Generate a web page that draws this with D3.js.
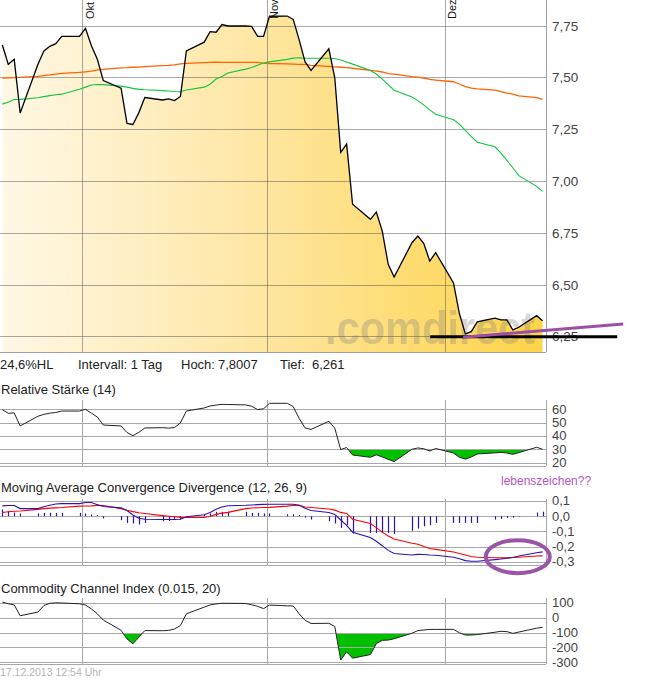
<!DOCTYPE html>
<html><head><meta charset="utf-8">
<script src="https://cdn.jsdelivr.net/npm/d3@7"></script>
<style>
html,body{margin:0;padding:0;background:#fff;}
svg{display:block;font-family:"Liberation Sans",Arial,sans-serif;}
</style></head><body>
<svg id="c" width="645" height="681"></svg>
<script>
// ---------- data ----------
const dates = [
"2013-09-17","2013-09-18","2013-09-19","2013-09-20",
"2013-09-23","2013-09-24","2013-09-25","2013-09-26","2013-09-27",
"2013-09-30","2013-10-01","2013-10-02","2013-10-03","2013-10-04",
"2013-10-07","2013-10-08","2013-10-09","2013-10-10","2013-10-11",
"2013-10-14","2013-10-15","2013-10-16","2013-10-17","2013-10-18",
"2013-10-21","2013-10-22","2013-10-23","2013-10-24","2013-10-25",
"2013-10-28","2013-10-29","2013-10-30","2013-10-31","2013-11-01",
"2013-11-04","2013-11-05","2013-11-06","2013-11-07","2013-11-08",
"2013-11-11","2013-11-12","2013-11-13","2013-11-14","2013-11-15",
"2013-11-18","2013-11-19","2013-11-20","2013-11-21","2013-11-22",
"2013-11-25","2013-11-26","2013-11-27","2013-11-28","2013-11-29",
"2013-12-02","2013-12-03","2013-12-04","2013-12-05","2013-12-06",
"2013-12-09","2013-12-10","2013-12-11","2013-12-12","2013-12-13",
"2013-12-16","2013-12-17"];
const price = [
7.658,7.565,7.589,7.33,
7.565,7.63,7.652,7.665,7.70,
7.70,7.739,7.655,7.59,7.487,
7.45,7.28,7.275,7.332,7.405,
7.393,7.398,7.39,7.41,7.63,
7.672,7.723,7.72,7.757,7.75,
7.75,7.748,7.70,7.70,7.797,
7.798,7.782,7.683,7.577,7.536,
7.64,7.50,7.14,7.18,6.89,
6.817,6.852,6.76,6.60,6.538,
6.704,6.736,6.70,6.615,6.656,
6.51,6.361,6.264,6.275,6.322,
6.34,6.332,6.332,6.283,6.296,
6.352,6.328];
const ma38 = [
7.373,7.383,7.395,7.396,
7.404,7.409,7.414,7.418,7.421,
7.445,7.455,7.465,7.468,7.467,
7.46,7.455,7.449,7.444,7.442,
7.438,7.436,7.434,7.433,7.441,
7.455,7.469,7.494,7.506,7.523,
7.542,7.55,7.561,7.571,7.577,
7.589,7.595,7.597,7.594,7.594,
7.594,7.593,7.586,7.576,7.566,
7.535,7.518,7.494,7.467,7.44,
7.407,7.39,7.368,7.345,7.324,
7.298,7.276,7.246,7.216,7.189,
7.167,7.136,7.101,7.066,7.028,
6.976,6.952];
const ma200 = [
7.498,7.5,7.501,7.502,
7.507,7.511,7.514,7.518,7.521,
7.526,7.529,7.532,7.538,7.541,
7.548,7.549,7.551,7.552,7.554,
7.559,7.56,7.562,7.567,7.57,
7.573,7.574,7.575,7.574,7.574,
7.574,7.574,7.574,7.571,7.569,
7.567,7.566,7.565,7.565,7.56,
7.555,7.553,7.551,7.549,7.546,
7.536,7.532,7.528,7.52,7.518,
7.506,7.503,7.499,7.492,7.489,
7.481,7.47,7.457,7.45,7.447,
7.441,7.433,7.426,7.421,7.413,
7.404,7.396];
const rsi = [
59.7,57,57.3,47.5,
54.8,56.2,57.1,57.6,58.7,
58.7,60,57.1,54.2,48.2,
47.5,42.6,40.2,42.7,46,
46.2,45.9,46.3,49.8,58.7,
61,62.5,63.2,63.7,63.6,
63.3,62.3,59.8,60.4,64.5,
64.5,62,53.2,46,44.9,
51,45.8,29.8,31.3,25.7,
24,25.8,24.3,22.4,20.8,
30,31,30.4,28.7,30.6,
27.2,24,22.6,24.2,26.5,
27.3,27.7,27.2,26.2,27.5,
31.5,30];
const macdLine = [
0.068,0.07,0.07,0.05,
0.05,0.062,0.072,0.08,0.083,
0.083,0.09,0.09,0.076,0.064,
0.055,0.037,0.008,-0.013,-0.02,
-0.022,-0.022,-0.022,-0.02,-0.004,
0.01,0.025,0.045,0.06,0.069,
0.072,0.074,0.076,0.078,0.079,
0.079,0.079,0.072,0.052,0.038,
0.024,0.012,-0.025,-0.06,-0.105,
-0.14,-0.165,-0.194,-0.225,-0.245,
-0.255,-0.251,-0.252,-0.255,-0.257,
-0.27,-0.28,-0.292,-0.296,-0.296,
-0.286,-0.282,-0.277,-0.272,-0.262,
-0.24,-0.235];
const signalLine = [
0.024,0.029,0.033,0.034,
0.045,0.05,0.053,0.055,0.057,
0.066,0.067,0.068,0.07,0.07,
0.05,0.039,0.03,0.023,0.018,
0.004,0.0,-0.004,-0.008,-0.009,
-0.009,0.0,0.012,0.02,0.025,
0.05,0.054,0.056,0.057,0.058,
0.066,0.07,0.072,0.06,0.057,
0.047,0.04,0.025,0.018,-0.02,
-0.048,-0.075,-0.105,-0.13,-0.15,
-0.178,-0.185,-0.2,-0.213,-0.218,
-0.235,-0.245,-0.255,-0.265,-0.27,
-0.273,-0.274,-0.274,-0.272,-0.27,
-0.262,-0.261];
const histogram = [
0.044,0.033,0.024,0.018,
0.018,0.022,0.022,0.022,0.022,
0.022,0.018,0.011,0.007,-0.015,
-0.026,-0.044,-0.048,-0.055,-0.044,
-0.033,-0.031,-0.022,-0.022,0,
0.01,0.018,0.029,0.029,0.029,
0.029,0.022,0.022,0.018,0.018,
0.013,0.013,0.007,-0.009,-0.022,
-0.033,-0.048,-0.077,-0.059,-0.114,
-0.11,-0.11,-0.11,-0.11,-0.118,
-0.096,-0.081,-0.066,-0.059,-0.044,
-0.044,-0.044,-0.044,-0.044,-0.044,
-0.022,-0.018,-0.011,-0.009,-0.004,
0.024,0.029];
const cci = [
106,95,87,14,
39,83,98,101,100,
95,86,60,27,-15,
-84,-142,-175,-130,-86,
-87,-85,-75,-52,27,
72,87,94,98,98,
97,88,78,62,86,
81,80,27,-17,-38,
-37,-58,-285,-229,-272,
-248,-174,-152,-150,-141,
-104,-86,-82,-78,-78,
-78,-101,-116,-116,-113,
-97,-91,-93,-105,-96,
-70,-64];
const months = ["2013-10-01","2013-11-01","2013-12-01"];
const monthLabels = ["Okt","Nov","Dez"];
const priceTicks = [7.75,7.5,7.25,7.0,6.75,6.5,6.25];
const rsiTicks = [60,50,40,30,20];
const macdTicks = [0.1,0,-0.1,-0.2,-0.3];
const cciTicks = [100,0,-100,-200,-300];
const infoLabels = ["24,6%HL","Intervall: 1 Tag","Hoch:","7,8007","Tief:","6,261"];
const panelTitles = ["Relative Stärke (14)","Moving Average Convergence Divergence (12, 26, 9)","Commodity Channel Index (0.015, 20)"];
const stampText = "17.12.2013 12:54 Uhr";
const noteText = "lebenszeichen??";
const supportLine = {from:"2013-11-28T14:00:00Z", to:"2013-12-30T02:00:00Z", value:6.25};
const trendLine = {from:"2013-12-04T03:00:00Z", v0:6.248, to:"2013-12-31T02:00:00Z", v1:6.312};
const noteMark = {date:"2013-12-13T08:00:00Z", value:-0.266};

// ---------- setup ----------
const svg = d3.select("#c");
const PR = 546; // right edge of plot
const parse = d3.utcParse("%Y-%m-%d");
const T = dates.map(d => new Date(parse(d).getTime() + 12*3600e3));
const idx = d3.range(dates.length);
const x = d3.scaleUtc()
  .domain([new Date(Date.UTC(2013,8,17,2,30)), new Date(Date.UTC(2013,11,18,2,0))])
  .range([0, PR]);
const de = d3.formatLocale({decimal:",", thousands:".", grouping:[3], currency:["","€"], minus:"-"});
const GRID = "rgba(80,80,80,0.48)";
const FONT = '"Liberation Sans", Arial, sans-serif';

const defs = svg.append("defs");
const grad = defs.append("linearGradient").attr("id","gold")
  .attr("gradientUnits","userSpaceOnUse").attr("x1",0).attr("x2",PR).attr("y1",0).attr("y2",0);
grad.append("stop").attr("offset","0%").attr("stop-color","#fff8e6");
grad.append("stop").attr("offset","45%").attr("stop-color","#fee7a6");
grad.append("stop").attr("offset","100%").attr("stop-color","#ffd447");

function clip(id, x0, y0, w, h){
  defs.append("clipPath").attr("id",id).append("rect").attr("x",x0).attr("y",y0).attr("width",w).attr("height",h);
  return "url(#"+id+")";
}

// ---------- main price panel ----------
const mainTop = 0, mainBot = 352;
const y = d3.scaleLinear().domain([6.25, 7.75]).range([336.8, 26]);
const gMain = svg.append("g").attr("clip-path", clip("cm", 0, mainTop, PR, mainBot-mainTop));

gMain.append("path")
  .attr("d", d3.area().x(i => x(T[i])).y0(mainBot).y1(i => y(price[i]))(idx))
  .attr("fill","url(#gold)");

gMain.append("text").text(".comdirect")
  .attr("x", 325).attr("y", 344)
  .attr("font-family", FONT).attr("font-weight","bold").attr("font-size", 46)
  .attr("textLength", 210).attr("lengthAdjust","spacingAndGlyphs")
  .attr("fill", "#808080").attr("fill-opacity", 0.32);

gMain.selectAll("line.hg").data(priceTicks).join("line")
  .attr("x1",0).attr("x2",PR).attr("y1",d=>y(d)).attr("y2",d=>y(d))
  .attr("stroke",GRID).attr("stroke-width",1).attr("shape-rendering","crispEdges");
gMain.selectAll("line.vg").data(months).join("line")
  .attr("x1",d=>Math.round(x(parse(d)))+0.5).attr("x2",d=>Math.round(x(parse(d)))+0.5)
  .attr("y1",mainTop).attr("y2",mainBot)
  .attr("stroke",GRID).attr("stroke-width",1);

const lineGen = arr => d3.line().x(i => x(T[i])).y(i => y(arr[i]))(idx);
gMain.append("path").attr("d", lineGen(ma200)).attr("fill","none").attr("stroke","#ff6400").attr("stroke-width",1.3);
gMain.append("path").attr("d", lineGen(ma38)).attr("fill","none").attr("stroke","#10c83a").attr("stroke-width",1.1);
gMain.append("path").attr("d", lineGen(price)).attr("fill","none").attr("stroke","#000").attr("stroke-width",1.3);

// borders
svg.append("line").attr("x1",PR+0.5).attr("x2",PR+0.5).attr("y1",mainTop).attr("y2",mainBot)
  .attr("stroke","#a0a0a0");
svg.append("line").attr("x1",0).attr("x2",PR).attr("y1",mainBot+0.5).attr("y2",mainBot+0.5)
  .attr("stroke","#a0a0a0");

// month labels
svg.selectAll("text.mon").data(months).join("text")
  .attr("transform", d => `translate(${x(parse(d))+11.5},19) rotate(-90)`)
  .attr("font-family",FONT).attr("font-size",11).attr("fill","#111")
  .text((d,i)=>monthLabels[i]);

function rightAxis(scale, ticks, fmt, fs){
  const g = svg.append("g").attr("transform",`translate(${PR},0)`)
    .call(d3.axisRight(scale).tickValues(ticks).tickFormat(fmt).tickSize(0).tickPadding(6));
  g.select(".domain").remove();
  g.selectAll("text").attr("font-family",FONT).attr("font-size",fs).attr("fill","#444").attr("dy","0.3em");
  g.attr("font-family",null).attr("font-size",null);
  return g;
}
rightAxis(y, priceTicks, de.format(".2f"), 13.5);

// info line
const infoX = [0, 78, 181, 218, 280, 312];
svg.selectAll("text.info").data(infoLabels).join("text")
  .attr("x",(d,i)=>infoX[i]).attr("y",369)
  .attr("font-family",FONT).attr("font-size",13).attr("fill","#222").text(d=>d);

// ---------- helper for sub panels ----------
function panelFrame(top, bot, scale, ticks){
  const g = svg.append("g");
  g.selectAll("line.h").data(ticks).join("line")
    .attr("x1",0).attr("x2",PR).attr("y1",d=>Math.round(scale(d))+0.5).attr("y2",d=>Math.round(scale(d))+0.5)
    .attr("stroke","#a8a8a8");
  g.append("line").attr("x1",0).attr("x2",PR).attr("y1",bot+0.5).attr("y2",bot+0.5).attr("stroke","#a8a8a8");
  g.selectAll("line.v").data(months).join("line")
    .attr("x1",d=>Math.round(x(parse(d)))+0.5).attr("x2",d=>Math.round(x(parse(d)))+0.5)
    .attr("y1",top).attr("y2",bot).attr("stroke","#a8a8a8");
  g.append("line").attr("x1",PR+0.5).attr("x2",PR+0.5).attr("y1",top).attr("y2",bot).attr("stroke","#a8a8a8");
  return g;
}
function title(txt, yy){
  svg.append("text").attr("x",1).attr("y",yy).attr("font-family",FONT).attr("font-size",13)
    .attr("fill","#222").text(txt);
}
function lowFill(scale, arr, level, bot, id){
  const top = Math.round(scale(level)) + 1;
  svg.append("path")
    .attr("clip-path", clip(id, 0, top, PR, bot-top))
    .attr("d", d3.area().x(i=>x(T[i])).y0(scale(level)).y1(i=>scale(arr[i]))(idx))
    .attr("fill","#00c000");
}

// ---------- RSI ----------
const rTop = 400, rBot = 466;
const yR = d3.scaleLinear().domain([20,60]).range([462.6,409.3]);
title(panelTitles[0], 394);
lowFill(yR, rsi, 30, rBot, "cr");
panelFrame(rTop, rBot, yR, rsiTicks);
svg.append("path").attr("d", d3.line().x(i=>x(T[i])).y(i=>yR(rsi[i]))(idx))
  .attr("fill","none").attr("stroke","#222").attr("stroke-width",1);
rightAxis(yR, rsiTicks, de.format("d"), 13);

// ---------- MACD ----------
const mTop = 499, mBot = 565;
const yM = d3.scaleLinear().domain([-0.3,0.1]).range([561.8,501]);
title(panelTitles[1], 492);
panelFrame(mTop, mBot, yM, macdTicks);
svg.selectAll("line.hist").data(idx.filter(i=>histogram[i]!==0)).join("line")
  .attr("x1",i=>Math.round(x(T[i]))+0.5).attr("x2",i=>Math.round(x(T[i]))+0.5)
  .attr("y1",yM(0)).attr("y2",i=>yM(histogram[i]))
  .attr("stroke","#3010b0").attr("stroke-width",1.2);
svg.append("path").attr("d", d3.line().x(i=>x(T[i])).y(i=>yM(signalLine[i]))(idx))
  .attr("fill","none").attr("stroke","#ff0000").attr("stroke-width",1.1);
svg.append("path").attr("d", d3.line().x(i=>x(T[i])).y(i=>yM(macdLine[i]))(idx))
  .attr("fill","none").attr("stroke","#3010b0").attr("stroke-width",1.1);
rightAxis(yM, macdTicks, de.format(".1f"), 13);

// ---------- CCI ----------
const cTop = 598, cBot = 664;
const yC = d3.scaleLinear().domain([-300,100]).range([662.3,603]);
title(panelTitles[2], 593);
lowFill(yC, cci, -100, cBot, "cc");
panelFrame(cTop, cBot, yC, cciTicks);
svg.append("path").attr("d", d3.line().x(i=>x(T[i])).y(i=>yC(cci[i]))(idx))
  .attr("fill","none").attr("stroke","#222").attr("stroke-width",1);
rightAxis(yC, cciTicks, de.format("d"), 13);

// timestamp
svg.append("text").attr("x",0).attr("y",676).attr("font-family",FONT).attr("font-size",10.5)
  .attr("fill","#b4b4b4").text(stampText);

// ---------- annotations ----------
const iso = d3.isoParse;
svg.append("line")
  .attr("x1", x(iso(supportLine.from))).attr("x2", x(iso(supportLine.to)))
  .attr("y1", y(supportLine.value)).attr("y2", y(supportLine.value))
  .attr("stroke","#000").attr("stroke-width",3);
svg.append("line")
  .attr("x1", x(iso(trendLine.from))).attr("x2", x(iso(trendLine.to)))
  .attr("y1", y(trendLine.v0)).attr("y2", y(trendLine.v1))
  .attr("stroke","#9d4ea7").attr("stroke-width",3);
svg.append("ellipse")
  .attr("cx", x(iso(noteMark.date))).attr("cy", yM(noteMark.value))
  .attr("rx", 32).attr("ry", 16.5)
  .attr("fill","none").attr("stroke","#9b55a7").attr("stroke-width",4);
svg.append("text").attr("x",501).attr("y",485).attr("font-family",FONT).attr("font-size",12)
  .attr("fill","#b555c5").text(noteText);
</script>
</body></html>
